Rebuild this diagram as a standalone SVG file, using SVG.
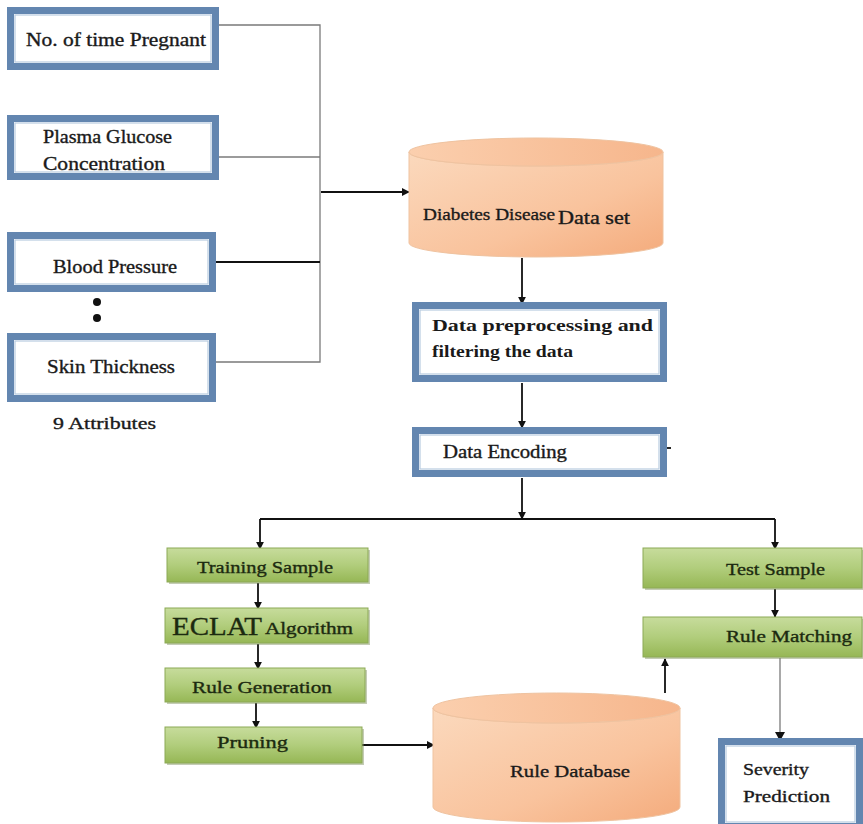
<svg xmlns="http://www.w3.org/2000/svg" width="863" height="824" viewBox="0 0 863 824">
<defs>
<linearGradient id="peach" x1="0" y1="0" x2="1" y2="1">
<stop offset="0" stop-color="#fbd9bd"/>
<stop offset="0.6" stop-color="#f9c39d"/>
<stop offset="1" stop-color="#f4ab7c"/>
</linearGradient>
<linearGradient id="peachTop" x1="0" y1="0" x2="1" y2="0">
<stop offset="0" stop-color="#fbcfae"/>
<stop offset="1" stop-color="#f6b68c"/>
</linearGradient>
<linearGradient id="green" x1="0" y1="0" x2="0" y2="1">
<stop offset="0" stop-color="#c7dc9c"/>
<stop offset="0.5" stop-color="#b1cd7c"/>
<stop offset="1" stop-color="#96b755"/>
</linearGradient>
<marker id="arr" viewBox="0 0 10 10" refX="9" refY="5" markerWidth="4.5" markerHeight="4.5" orient="auto">
<path d="M0,0 L10,5 L0,10 z" fill="#111"/>
</marker>
<style>
.t{font-family:"Liberation Serif","DejaVu Serif",serif;fill:#1a1a1a;stroke:#1a1a1a;stroke-width:0.35}
.tb{font-family:"Liberation Serif","DejaVu Serif",serif;font-weight:bold;fill:#1a1a1a}
.tg{font-family:"Liberation Serif","DejaVu Serif",serif;fill:#1c2a10;stroke:#1c2a10;stroke-width:0.35}
.bo{fill:#ffffff;stroke:#6386b0;stroke-width:7}
.bi{fill:none;stroke:#b8cbe0;stroke-width:1.2}
.gr{fill:url(#green);stroke:#8ca956;stroke-width:1}
.gs{fill:#7d8f5c;opacity:0.45}
.cyl{fill:url(#peach);stroke:#efc3a0;stroke-width:1}
.cylt{fill:url(#peachTop);stroke:#efc3a0;stroke-width:1}
.ln{stroke:#7a7a7a;stroke-width:1.3;fill:none}
.lk{stroke:#111;stroke-width:1.8;fill:none}
.la{stroke:#111;stroke-width:1.8;fill:none;marker-end:url(#arr)}
</style>
</defs>
<rect width="863" height="824" fill="#ffffff"/>

<g id="connectors">
<path class="ln" d="M219,25 H320 V362 H215"/>
<path class="ln" d="M219,157 H320"/>
<path class="lk" d="M215,262 H320" stroke-width="1.5"/>
<path class="la" d="M321,192 H409"/>
<path class="la" d="M522,258 V304"/>
<path class="la" d="M522,383 V428"/>
<path class="lk" d="M667,448 H671" stroke-width="2.5"/>
<path class="la" d="M522,478 V519"/>
<path class="lk" d="M260,519 H775"/>
<path class="la" d="M260,519 V549"/>
<path class="la" d="M775,519 V549"/>
<path class="la" d="M258,583 V609"/>
<path class="la" d="M258,644 V669"/>
<path class="la" d="M256,703 V728"/>
<path class="la" d="M362,745 H434"/>
<path class="la" d="M665,693 V659"/>
<path class="la" d="M775,589 V617"/>
<path class="ln" d="M780,658 V738" stroke="#555" stroke-width="1.8"/>
<path d="M775,732 L785,732 L780,741 z" fill="#111"/>
</g>

<g id="n_pregnant">
<rect class="bo" x="10.5" y="10.5" width="205" height="56"/>
<rect class="bi" x="15" y="15" width="196" height="47"/>
<text class="t" x="26" y="46" font-size="18" textLength="180" lengthAdjust="spacingAndGlyphs">No. of time Pregnant</text>
</g>

<g id="n_glucose">
<rect class="bo" x="10.5" y="118.5" width="205" height="58"/>
<rect class="bi" x="15" y="123" width="196" height="49"/>
<text class="t" x="43" y="143" font-size="18" textLength="129" lengthAdjust="spacingAndGlyphs">Plasma Glucose</text>
<text class="t" x="43" y="170" font-size="18" textLength="122" lengthAdjust="spacingAndGlyphs">Concentration</text>
</g>

<g id="n_bp">
<rect class="bo" x="10.5" y="235.5" width="202" height="53"/>
<rect class="bi" x="15" y="240" width="193" height="44"/>
<text class="t" x="53" y="273" font-size="18" textLength="124" lengthAdjust="spacingAndGlyphs">Blood Pressure</text>
</g>

<g id="dots">
<circle cx="97" cy="302" r="4" fill="#111"/>
<circle cx="97" cy="318" r="4" fill="#111"/>
</g>

<g id="n_skin">
<rect class="bo" x="10.5" y="336.5" width="202" height="62"/>
<rect class="bi" x="15" y="341" width="193" height="53"/>
<text class="t" x="47" y="373" font-size="18" textLength="128" lengthAdjust="spacingAndGlyphs">Skin Thickness</text>
</g>

<g id="label_attrs">
<text class="t" x="53" y="429" font-size="17" textLength="103" lengthAdjust="spacingAndGlyphs">9 Attributes</text>
</g>

<g id="n_dataset">
<path class="cyl" d="M409,152 A127,14 0 0 0 663,152 V243 A127,14 0 0 1 409,243 Z"/>
<ellipse class="cylt" cx="536" cy="152" rx="127" ry="14"/>
<text class="t" x="423" y="220" font-size="17" textLength="132" lengthAdjust="spacingAndGlyphs">Diabetes Disease</text>
<text class="t" x="558" y="224" font-size="18" textLength="72" lengthAdjust="spacingAndGlyphs">Data set</text>
</g>

<g id="n_preproc">
<rect class="bo" x="415.5" y="305.5" width="248" height="73"/>
<rect class="bi" x="420" y="310" width="239" height="64"/>
<text class="tb" x="432" y="331" font-size="16" textLength="221" lengthAdjust="spacingAndGlyphs">Data preprocessing and</text>
<text class="tb" x="432" y="357" font-size="16" textLength="141" lengthAdjust="spacingAndGlyphs">filtering the data</text>
</g>

<g id="n_encoding">
<rect class="bo" x="415.5" y="430.5" width="248" height="43"/>
<rect class="bi" x="420" y="435" width="239" height="34"/>
<text class="t" x="443" y="458" font-size="18" textLength="124" lengthAdjust="spacingAndGlyphs">Data Encoding</text>
</g>

<g id="n_training">
<rect class="gs" x="169" y="550" width="201" height="34"/>
<rect class="gr" x="167" y="548" width="201" height="34"/>
<text class="tg" x="197" y="573" font-size="17" textLength="136" lengthAdjust="spacingAndGlyphs">Training Sample</text>
</g>

<g id="n_eclat">
<rect class="gs" x="167" y="610" width="203" height="35"/>
<rect class="gr" x="165" y="608" width="203" height="35"/>
<text class="tg" x="172" y="635" font-size="25" textLength="90" lengthAdjust="spacingAndGlyphs">ECLAT</text>
<text class="tg" x="265" y="634" font-size="16" textLength="88" lengthAdjust="spacingAndGlyphs">Algorithm</text>
</g>

<g id="n_rulegen">
<rect class="gs" x="167" y="670" width="200" height="34"/>
<rect class="gr" x="165" y="668" width="200" height="34"/>
<text class="tg" x="192" y="693" font-size="17" textLength="140" lengthAdjust="spacingAndGlyphs">Rule Generation</text>
</g>

<g id="n_pruning">
<rect class="gs" x="167" y="729" width="197" height="36"/>
<rect class="gr" x="165" y="727" width="197" height="36"/>
<text class="tg" x="217" y="748" font-size="17" textLength="71" lengthAdjust="spacingAndGlyphs">Pruning</text>
</g>

<g id="n_ruledb">
<path class="cyl" d="M433,708 A123.5,15 0 0 0 680,708 V807 A123.5,15 0 0 1 433,807 Z"/>
<ellipse class="cylt" cx="556.5" cy="708" rx="123.5" ry="15"/>
<text class="t" x="510" y="777" font-size="17" textLength="120" lengthAdjust="spacingAndGlyphs">Rule Database</text>
</g>

<g id="n_test">
<rect class="gs" x="645" y="550" width="218" height="40"/>
<rect class="gr" x="643" y="548" width="219" height="40"/>
<text class="tg" x="726" y="575" font-size="17" textLength="99" lengthAdjust="spacingAndGlyphs">Test Sample</text>
</g>

<g id="n_match">
<rect class="gs" x="645" y="619" width="218" height="40"/>
<rect class="gr" x="643" y="617" width="219" height="40"/>
<text class="tg" x="726" y="642" font-size="17" textLength="126" lengthAdjust="spacingAndGlyphs">Rule Matching</text>
</g>

<g id="n_severity">
<rect class="bo" x="721.5" y="741.5" width="138" height="85"/>
<rect class="bi" x="726" y="746" width="129" height="76"/>
<text class="t" x="743" y="775" font-size="17" textLength="66" lengthAdjust="spacingAndGlyphs">Severity</text>
<text class="t" x="743" y="802" font-size="17" textLength="87" lengthAdjust="spacingAndGlyphs">Prediction</text>
</g>
</svg>
